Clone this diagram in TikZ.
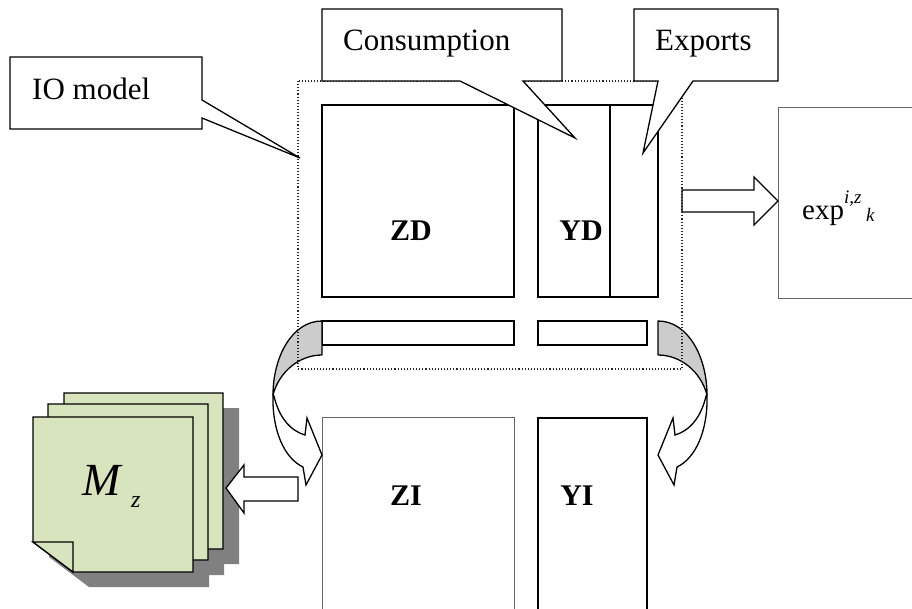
\documentclass[tikz,border=0pt]{standalone}
\usepackage{fontspec}
\setmainfont{Liberation Serif}
\begin{document}
\begin{tikzpicture}[x=1pt,y=-1pt,
  blk/.style={draw=black,line width=1.3pt},
  thin/.style={draw=black!60,line width=0.9pt},
  call/.style={draw=black,line width=1.3pt,fill=white,line join=miter},
  lbl/.style={inner sep=0pt,font=\fontsize{31}{34}\selectfont},
  bold/.style={inner sep=0pt,font=\fontsize{30}{32}\selectfont\bfseries},
  barrow/.style={draw=black,line width=1.3pt,fill=white,line join=miter},
  sheet/.style={draw=black,line width=1.3pt,fill=sheetgreen,line join=miter},
  shadow/.style={fill=black!50,draw=none},
  curvgray/.style={draw=black,line width=1.3pt,fill=black!20},
  curvwhite/.style={draw=black,line width=1.3pt,fill=white}
]
\definecolor{sheetgreen}{HTML}{D7E4BD}
\useasboundingbox (0,0) rectangle (912,608);

% domestic blocks
\draw[blk] (322,105) rectangle (514,297);
\draw[blk] (538,105) rectangle (610,297);
\draw[blk] (610,105) rectangle (658,297);
\node[bold,anchor=base] (zd) at (411,240) {ZD};
\node[bold,anchor=base] (yd) at (581,240) {YD};

% thin row blocks
\draw[blk] (322,321) rectangle (514,345);
\draw[blk] (538,321) rectangle (647,345);

% exports box (cut by the right edge)
\draw[thin] (920,107) -- (778,107) -- (778,298) -- (920,298);
\node[inner sep=0pt,anchor=base west,font=\fontsize{29}{30}\selectfont] (exptxt) at (802,219) {exp};
\node[inner sep=0pt,anchor=base west,font=\fontsize{19}{20}\selectfont\itshape] (expsup) at (844,203) {i,z};
\node[inner sep=0pt,anchor=base west,font=\fontsize{19}{20}\selectfont\itshape] (expsub) at (866,221) {k};

% arrow to exports box
\draw[barrow] (682,190) -- (754,190) -- (754,177) -- (778,201) -- (754,225) -- (754,212) -- (682,212) -- cycle;

% import blocks
\draw[thin] (322,620) -- (322,417) -- (514,417) -- (514,620);
\draw[blk] (538,620) -- (538,418) -- (647,418) -- (647,620);
\node[bold,anchor=base] (zi) at (406,505) {ZI};
\node[bold,anchor=base] (yi) at (577,505) {YI};

% curved arrows (left, and mirrored right)
\foreach \s/\o in {1/0,-1/980} {
\begin{scope}[xshift=\o pt, xscale=\s]
  \draw[curvgray,line join=round] (322,321) .. controls (292,321) and (273,357) .. (273,395)
     .. controls (279,372) and (299,355) .. (322,355) -- cycle;
  \draw[curvwhite,line join=miter] (274,396) .. controls (279,418) and (291,431) .. (305,435)
     -- (307,418) -- (322,455) -- (306,485) -- (303,467)
     .. controls (284,458) and (272,430) .. (273,395) -- cycle;
\end{scope}
}

% dotted IO-model frame
\draw[dotted,line width=1.1pt,black!85] (298,81) rectangle (682,369);

% stack of M_z sheets: shadows
\fill[shadow] (80,408) -- (239,408) -- (239,564) -- (120,564) -- (80,534) -- cycle;
\fill[shadow] (64,419) -- (224,419) -- (224,575) -- (104,575) -- (64,545) -- cycle;
\fill[shadow] (49,432) -- (209,432) -- (209,587) -- (89,587) -- (49,557) -- cycle;
% sheets
\draw[sheet] (64,393) -- (223,393) -- (223,549) -- (104,549) -- (64,519) -- cycle;
\draw[sheet] (48,404) -- (208,404) -- (208,560) -- (88,560) -- (48,530) -- cycle;
\draw[sheet] (33,417) -- (193,417) -- (193,572) -- (73,572) -- (33,542) -- cycle;
\draw[sheet] (33,542) -- (73,542) -- (73,572) -- cycle;
\node[inner sep=0pt,anchor=base west,font=\fontsize{46}{48}\selectfont\itshape] (mz) at (82,495) {M};
\node[inner sep=0pt,anchor=base west,font=\fontsize{24}{26}\selectfont\itshape] (mzsub) at (131,507) {z};

% arrow to M_z
\draw[barrow] (298,477) -- (244,477) -- (244,465) -- (226,488) -- (244,513) -- (244,501) -- (298,501) -- cycle;

% callouts
\draw[call] (10,57) -- (202,57) -- (202,100) -- (300,158) -- (202,118) -- (202,129) -- (10,129) -- cycle;
\node[lbl,anchor=base west] (io) at (32,99) {IO model};
\draw[call] (322,9) -- (562,9) -- (562,81) -- (523,81) -- (575,138) -- (460,81) -- (322,81) -- cycle;
\node[lbl,anchor=base west] (cons) at (343,50) {Consumption};
\draw[call] (634,9) -- (778,9) -- (778,81) -- (693,81) -- (643,153) -- (658,81) -- (634,81) -- cycle;
\node[lbl,anchor=base west] (exp) at (655,50) {Exports};
\end{tikzpicture}
\end{document}
